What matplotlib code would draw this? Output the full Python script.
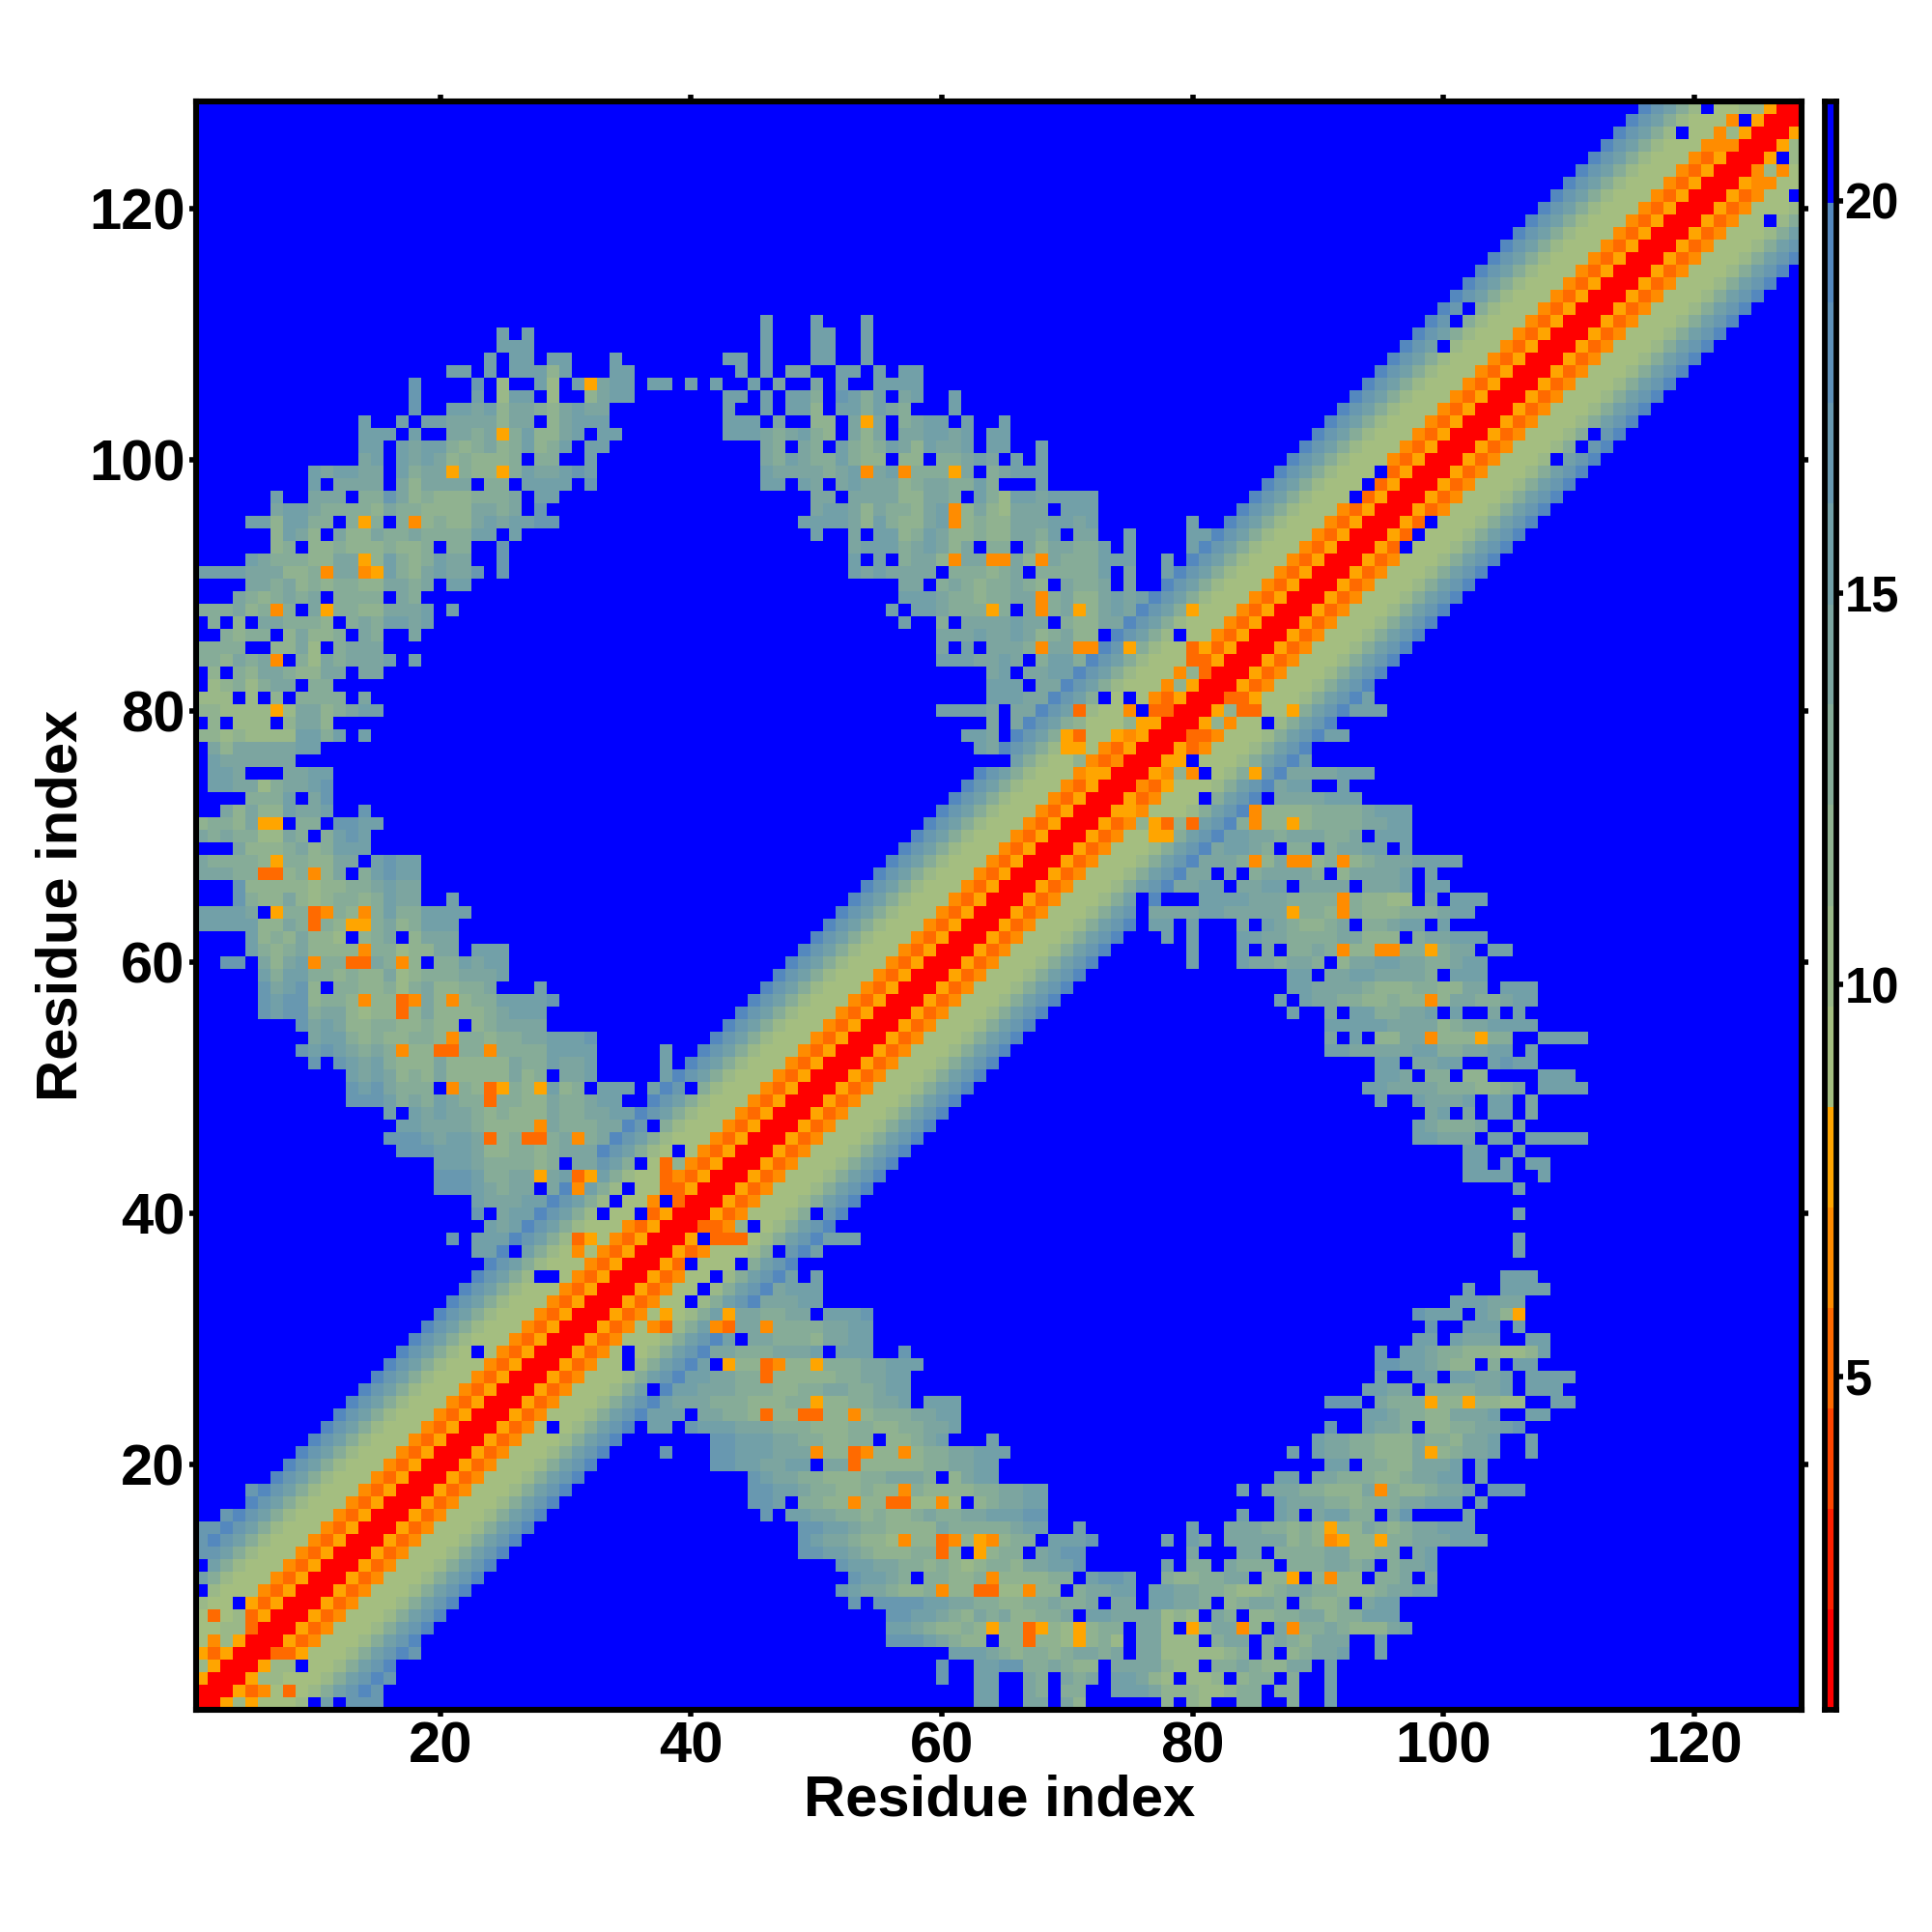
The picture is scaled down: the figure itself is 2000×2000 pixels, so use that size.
import numpy as np
import matplotlib
matplotlib.use("Agg")
import matplotlib.pyplot as plt
from matplotlib.colors import ListedColormap, BoundaryNorm

plt.rcParams['font.family'] = ['Liberation Sans', 'DejaVu Sans']
plt.rcParams['font.weight'] = 'bold'

n_res = 128
ticks = [20, 40, 60, 80, 100, 120]
bar_ticks = [5, 10, 15, 20]

# colour classes of the legend bar
bar_colors = ['#FF0000', '#FF2000', '#FF4500', '#FF6A00', '#FF8C00', '#FFA500',
              '#A4BE80', '#9AB888', '#90B290', '#86AC98', '#7CA5A0',
              '#72A0A8', '#6898B0', '#5E90B8', '#5488BE', '#0000FF']
bar_edges = [0.74, 2.02, 3.31, 4.59, 5.87, 7.15, 8.44, 9.72, 11.0, 12.29,
             13.57, 14.85, 16.14, 17.42, 18.7, 19.98, 21.27]

# distance by sequence offset along the diagonal (offset 0 to 12)
band_profile = [1.4, 1.4, 7.8, 5.2, 6.5, 9.1, 9.1, 9.1, 10.4, 12.9, 15.5, 16.8, 19.0]

# letters used in the rows below, digits 1-9 are the green to blue classes
symbol_values = {'.': 21.0, 'r': 1.4, 'a': 7.8, 'o': 6.5, 'd': 5.2}
for d in range(1, 10):
    symbol_values[str(d)] = 8.45 + 1.2825 * (d - 0.5)

# cells right of the diagonal, row: "first_column:cells ..."
rows_lower = {
    1: "4:2 5:a 10:. 11:6 12:. 13:777 63:66 67:55 70:53 78:3 80:32 84:44 88:4 91:6",
    2: "8:d 15:7 63:66 67:54 70:44 74:666533322344 87:44 91:6",
    3: "6:22 16:7 60:7 63:66 67:54 70:545 74:66532 80:223 84:344 88:4 91:6",
    4: "7:22 9:. 60:7 63:66 65:77 67:445433 74:5555322 82:44543355 91:6",
    5: "7:dda 18:7 61:66654344345545 76:552222234 86:4 88:34556 95:6",
    6: "56:77765433 64:. 65:33 67:d 68:332 71:a 72:342 76:55222 82:455 86:4543555 95:6",
    7: "56:66543343 64:a 65:33 67:d 68:a 69:32 71:a 72:344 76:552 80:a 81:355 84:o 85:3 87:5 88:o 89:445433356",
    8: "56:776654354533445 72:665555232 82:54 85:334455344666",
    9: "53:7 55:777766554433445445 74:55 77:66554 83:34554 89:4334 94:566",
    10: "52:76554334 60:o 61:33 63:dd 65:22 67:o 68:33 71:45566 77:66554432234554433345566",
    11: "53:76654 58:. 59:44334 64:o 65:333344 72:6776 78:4334455 86:33 88:a 90:3 91:o 92:33 95:445 99:5",
    12: "52:76655443432344355667 78:6 80:44 83:5444 88:4445545 96:4556",
    13: "49:77665433344 60:d 61:3 62:. 63:a 64:344 67:. 68:5677 80:5 84:55 87:4444553344 98:56",
    14: "49:76554332 57:o 58:33 60:d 61:o 62:3 63:a 64:o 65:344 69:6667 78:6 80:65 83:55555343 91:o 92:a 93:33 95:a 96:44555 101:666",
    15: "49:77665443333544444566 71:6 80:6 83:55544343 91:a 92:335434556 101:66",
    16: "46:7 48:6 49:65544343345445566677 84:6 87:65 90:56644 96:57 102:6",
    17: "45:776 49:4433 53:o 54:33 56:dd 58:22 60:o 61:2 63:345566 87:655544344455666 103:6",
    18: "45:776654433433 57:o 58:43333445566 84:6 86:555443335 95:o 96:4334556 104:777",
    19: "45:765544333445554 61:3566 87:66 90:554443345566 103:6",
    20: "42:77665566 51:55 53:d 54:33333445566 91:66 94:44335566 100:56 103:6",
    21: "38:7 42:77666555 50:o 51:33 53:d 54:o 55:33 57:o 58:34455666 88:6 90:655443335 99:a 100:34556 107:6",
    22: "42:7766655443344 56:33456 64:6 90:655443335443556 107:6",
    23: "29:. 37:66 40:7666555444333443344556 91:7 94:6554 99:33445567",
    24: "37:666 40:. 41:55443 46:d 47:33 49:dd 51:33 53:o 54:34445566 94:66544335556 107:66",
    25: "38:655544433344 50:a 51:3344556 59:666 91:777 95:5444 99:a 100:33 102:a 103:3322 109:66",
    26: "37:. 39:6655544433445544566 94:6655 99:4444556 107:666",
    27: "40:665544 46:d 47:33333445566 95:6 98:66 101:66556 107:6666",
    28: "35:. 41:6 42:. 43:a 44:33 46:d 47:o 48:33 50:a 51:44455666 95:77665433 104:4 106:66",
    29: "35:. 42:554445556 52:666 57:7 95:7 97:665443332236",
    30: "43:6 44:. 45:5544435566 98:66 101:6555 107:66",
    31: "37:o 38:d 42:o 43:d 44:55 46:o 47:44445566 99:7 102:666 106:6",
    32: "38:a 43:a 44:554455 50:. 51:6667 98:7666 103:653 106:a",
    33: "40:. 46:55566 101:666555",
    34: "41:. 47:5666 102:6 105:6666",
    35: "42:. 48:6 50:6 105:666",
    36: "40:. 44:.",
    37: "47:. 50:6 106:6",
    38: "41:. 42:ddd 51:666 106:6",
    39: "41:dd 43:o 44:3 45:.",
    40: "36:. 50:. 106:6",
    41: "34:. 38:. 39:o",
    42: "106:6",
    43: "102:6666 108:6",
    44: "102:66 105:6 107:66",
    45: "102:66 106:6",
    46: "98:66555 104:66 107:66666",
    47: "98:654445 106:5",
    48: "99:56 102:5 104:66 107:5",
    49: "95:6 98:65556 104:66 107:5",
    50: "94:6655554443345 108:6666",
    51: "95:665 99:44 102:33 108:666",
    52: "95:66 98:5566 104:6766",
    53: "91:665555566445566 107:6",
    54: "91:5 93:6 95:3355 99:o 100:333 103:a 104:44 108:6666",
    55: "91:66666555534556666",
    56: "88:6 91:5 93:6644556 101:6 104:5 106:6",
    57: "87:6 89:6554433433 99:o 100:35544566",
    58: "88:6655554333443355 105:666",
    59: "88:66 91:556655554 101:666",
    60: "80:6 84:6554554 92:355665544566",
    61: "80:6 84:6 86:5 88:4454 92:o 93:33 95:oo 97:44 99:a 100:455 104:66",
    62: "78:6 80:6 84:6655444455333 98:455666",
    63: "77:66 80:6 84:5 86:6543345 94:44566 100:6",
    64: "76:. 77:55556655555 88:a 89:443 92:o 93:4333444566",
    65: "76:. 79:. 80:. 81:66665554444 92:o 93:43322 99:5 101:666",
    66: "79:5566 84:5566 89:5555 94:5556 99:66",
    67: "80:55 83:5 85:455554 92:355556 99:6",
    68: "81:5554 85:o 86:35 88:oo 90:34 92:o 93:345556666",
    69: "82:56654 88:44 91:45566 97:6",
    70: "77:aa 83:66554555445 95:666",
    71: "76:3 77:a 78:d 79:3 80:d 84:4 85:o 86:33 88:a 89:344445566",
    72: "74:aa 85:o 86:333344445666",
    73: "81:. 86:. 87:5555666",
    74: "76:oda 87:566 92:6",
    75: "77:a 78:o 79:3 80:o 81:. 85:a 88:5555666",
    76: "78:aa 80:. 89:6",
    78: "80:d 91:66",
    79: "81:a 82:3 86:.",
    80: "82:a 83:3 84:dd 88:a 93:666",
    81: "83:dd 85:a 94:6",
    93: "97:.",
    94: "98:.",
    95: "99:.",
    100: "109:.",
    101: "111:.",
    102: "112:.",
    119: "126:.",
    121: "125:o 128:.",
    122: "125:oo",
    123: "125:o 126:2",
    124: "127:. 128:2",
    125: "128:2",
}

# band first, then the cells read row by row, then mirrored
dist = np.full((n_res, n_res), 21.0)
for i in range(n_res):
    for off, val in enumerate(band_profile):
        if i + off < n_res:
            dist[i, i + off] = val
for row, text in rows_lower.items():
    for seg in text.split():
        first, cells = seg.split(':')
        for k, ch in enumerate(cells):
            col = int(first) + k
            if col <= n_res:
                dist[row - 1, col - 1] = symbol_values[ch]
iu = np.triu_indices(n_res)
dist.T[iu] = dist[iu]

cmap = ListedColormap(bar_colors)
norm = BoundaryNorm(bar_edges, cmap.N)

fig = plt.figure(figsize=(20, 20), dpi=100)
ax = fig.add_axes([0.10125, 0.115, 0.831, 0.8325])
edges = np.arange(n_res + 1) + 0.5
ax.pcolormesh(edges, edges, dist, cmap=cmap, norm=norm, rasterized=True)
ax.set_xlim(0.5, n_res + 0.5)
ax.set_ylim(0.5, n_res + 0.5)
ax.set_xticks(ticks)
ax.set_yticks(ticks)
ax.tick_params(axis='both', which='major', labelsize=43, length=5, width=4.0,
               top=True, right=True, pad=3)
for spine in ax.spines.values():
    spine.set_linewidth(4.4)

cax = fig.add_axes([0.9445, 0.115, 0.006, 0.8325])
bar_x = [0, 1]
cax.pcolormesh(bar_x, bar_edges, np.arange(16).reshape(-1, 1), cmap=cmap,
               vmin=-0.5, vmax=15.5)
cax.set_xticks([])
cax.yaxis.tick_right()
cax.set_yticks(bar_ticks)
cax.tick_params(axis='y', labelsize=36.5, length=5, width=4.0, pad=1)
for spine in cax.spines.values():
    spine.set_linewidth(4.2)

fig.text(0.5175, 0.068, 'Residue index', fontsize=43, fontweight='bold',
         ha='center', va='center')
fig.text(0.032, 0.5315, 'Residue index', fontsize=43, fontweight='bold',
         rotation=90, ha='center', va='center')

fig.savefig('out.png', dpi=100)
